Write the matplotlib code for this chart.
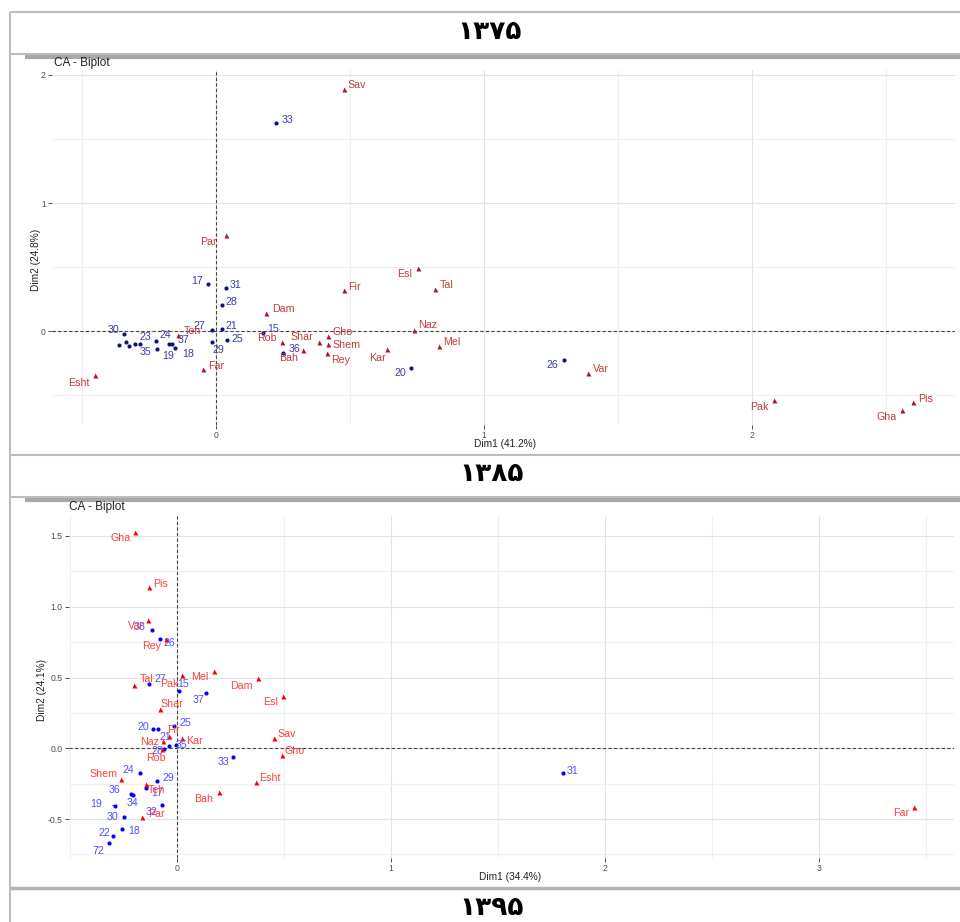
import matplotlib
matplotlib.use('Agg')
import matplotlib.pyplot as plt
from matplotlib.lines import Line2D

W, H = 960, 922

# ---------------- data: 1375 ----------------
rows75_names = ['15', '16', '17', '18', '19', '20', '21', '22', '23', '24', '25', '26',
                '27', '28', '29', '30', '31', '32', '33', '34', '35', '36', '37']
rows75_x = [0.174, -0.363, -0.031, -0.153, -0.175, 0.729, 0.021, -0.336, -0.282, -0.224, 0.041, 1.297,
            -0.016, 0.021, -0.016, -0.342, 0.037, -0.325, 0.225, -0.302, -0.221, 0.250, -0.165]
rows75_y = [-0.018, -0.109, 0.365, -0.130, -0.104, -0.289, 0.013, -0.084, -0.099, -0.078, -0.073, -0.227,
            0.008, 0.201, -0.088, -0.026, 0.338, -0.120, 1.627, -0.104, -0.141, -0.170, -0.104]
cols75_names = ['Sav', 'Par', 'Esl', 'Tal', 'Fir', 'Dam', 'Naz', 'Gho', 'Rob', 'Shar', 'Shem',
                'Bah', 'Rey', 'Kar', 'Mel', 'Far', 'Teh', 'Esht', 'Var', 'Pak', 'Pis', 'Gha']
cols75_x = [0.476, 0.037, 0.754, 0.817, 0.478, 0.187, 0.738, 0.417, 0.247, 0.384, 0.419,
            0.326, 0.413, 0.638, 0.832, -0.050, -0.141, -0.453, 1.387, 2.082, 2.602, 2.560]
cols75_y = [1.893, 0.748, 0.495, 0.328, 0.323, 0.141, 0.010, -0.037, -0.084, -0.084, -0.099,
            -0.146, -0.172, -0.143, -0.115, -0.295, -0.031, -0.344, -0.330, -0.539, -0.552, -0.617]
dim1_75, dim2_75 = 'Dim1 (41.2%)', 'Dim2 (24.8%)'

# ---------------- data: 1385 ----------------
rows85_names = ['15', '16', '17', '18', '19', '20', '21', '22', '24', '25', '26', '27', '28',
                '29', '30', '31', '32', '33', '34', '35', '36', '37', '38', '72']
rows85_x = [0.008, -0.089, -0.143, -0.257, -0.291, -0.114, -0.039, -0.299, -0.171, -0.013, -0.078, -0.129, -0.063,
            -0.095, -0.246, 1.805, -0.071, 0.262, -0.204, -0.005, -0.216, 0.136, -0.118, -0.319]
rows85_y = [0.406, 0.138, -0.277, -0.573, -0.406, 0.138, 0.018, -0.617, -0.171, 0.161, 0.771, 0.455, -0.007,
            -0.229, -0.486, -0.175, -0.404, -0.065, -0.330, 0.023, -0.321, 0.394, 0.836, -0.672]
cols85_names = ['Gha', 'Pis', 'Var', 'Rey', 'Tal', 'Pak', 'Mel', 'Dam', 'Esl', 'Shar', 'Fir',
                'Kar', 'Naz', 'Rob', 'Sav', 'Gho', 'Shem', 'Teh', 'Esht', 'Bah', 'Par', 'Far']
cols85_x = [-0.196, -0.129, -0.134, -0.051, -0.202, 0.022, 0.174, 0.377, 0.497, -0.079, -0.039,
            0.023, -0.064, -0.069, 0.453, 0.489, -0.260, -0.143, 0.368, 0.196, -0.162, 3.445]
cols85_y = [1.530, 1.138, 0.905, 0.771, 0.448, 0.517, 0.549, 0.495, 0.366, 0.279, 0.088,
            0.076, 0.048, -0.004, 0.072, -0.048, -0.220, -0.253, -0.241, -0.307, -0.486, -0.413]
dim1_85, dim2_85 = 'Dim1 (34.4%)', 'Dim2 (24.1%)'

section_titles = ['\u06f1\u06f3\u06f7\u06f5', '\u06f1\u06f3\u06f8\u06f5', '\u06f1\u06f3\u06f9\u06f5']

# ---------------- label placement (pixel offsets, style only) ----------------
off_r75 = {'15': (10, 4), '17': (-11, 3), '18': (13, -6), '19': (-1, -12), '20': (-11, -5),
           '21': (10, 3), '23': (5, 7), '24': (9, 6), '25': (10, 1), '26': (-11, -5),
           '27': (-12, 4), '28': (10, 3), '29': (7, -8), '30': (-11, 4), '31': (10, 3),
           '33': (11, 3), '35': (-11, -3), '36': (11, 4), '37': (12, 4)}
off_c75 = {'Sav': (13, 4), 'Par': (-18, -7), 'Esl': (-14, -6), 'Tal': (12, 4), 'Fir': (10, 3),
           'Dam': (17, 4), 'Naz': (14, 5), 'Gho': (15, 4), 'Rob': (-15, 4), 'Shar': (-17, 5),
           'Shem': (18, -1), 'Bah': (-15, -8), 'Rey': (14, -7), 'Kar': (-10, -9), 'Mel': (13, 4),
           'Far': (14, 3), 'Teh': (14, 4), 'Esht': (-16, -8), 'Var': (13, 4), 'Pak': (-15, -7),
           'Pis': (12, 3), 'Gha': (-16, -7)}
off_r85 = {'15': (4, 7), '17': (11, -5), '18': (12, -2), '19': (-19, 2), '20': (-9, 2),
           '21': (-3, 9), '22': (-9, 3), '24': (-12, 3), '25': (11, 3), '26': (9, -4),
           '27': (11, 5), '28': (-6, -2), '29': (12, 3), '30': (-12, 0), '31': (9, 2),
           '32': (-10, -7), '33': (-10, -5), '34': (-1, -8), '35': (6, 0), '36': (-16, 4),
           '37': (-8, -7), '38': (-12, 3), '72': (-10, -8)}
off_c85 = {'Gha': (-14, -6), 'Pis': (11, 3), 'Var': (-12, -6), 'Rey': (-15, -7), 'Tal': (13, 6),
           'Pak': (-12, -9), 'Mel': (-14, -6), 'Dam': (-16, -8), 'Esl': (-13, -6), 'Shar': (12, 5),
           'Fir': (5, 6), 'Kar': (13, -3), 'Naz': (-14, -1), 'Rob': (-6, -9), 'Sav': (13, 4),
           'Gho': (13, 4), 'Shem': (-18, 5), 'Teh': (10, -6), 'Esht': (14, 4), 'Bah': (-15, -7),
           'Par': (14, 3), 'Far': (-13, -6)}
segment85 = {'19'}

plt.rcParams['font.family'] = ['Liberation Sans', 'DejaVu Sans']

fig = plt.figure(figsize=(W / 100, H / 100), dpi=100)


def fx(x):
    return x / W


def fy(y):
    return 1 - y / H


def hline(y, x0, x1, lw=1.5, color='#bdbdbd'):
    fig.add_artist(Line2D([fx(x0), fx(x1)], [fy(y), fy(y)], transform=fig.transFigure,
                          color=color, lw=lw, solid_capstyle='butt'))


def vline(x, y0, y1, lw=1.5, color='#bdbdbd'):
    fig.add_artist(Line2D([fx(x), fx(x)], [fy(y0), fy(y1)], transform=fig.transFigure,
                          color=color, lw=lw, solid_capstyle='butt'))


def panel(l, t, r, b):
    return fig.add_axes([fx(l), fy(b), (r - l) / W, (b - t) / H])


def draw_biplot(ax, xlim, ylim, xmaj, xmin, ymaj, ymin, yfmt,
                rn, rx, ry, cn, cx, cy, offr, offc, cols, seg=()):
    ax.set_xlim(*xlim)
    ax.set_ylim(*ylim)
    for s in ax.spines.values():
        s.set_visible(False)
    for v in xmin:
        ax.axvline(v, color='#f0f0f0', lw=0.8, zorder=0)
    for v in xmaj:
        ax.axvline(v, color='#e3e3e3', lw=0.8, zorder=0)
    for v in ymin:
        ax.axhline(v, color='#f0f0f0', lw=0.8, zorder=0)
    for v in ymaj:
        ax.axhline(v, color='#e3e3e3', lw=0.8, zorder=0)
    ax.axvline(0, color='#444444', lw=0.8, ls=(0, (3, 2)), zorder=1)
    ax.axhline(0, color='#444444', lw=0.8, ls=(0, (3, 2)), zorder=1)
    ax.set_xticks(xmaj)
    ax.set_yticks(ymaj)
    ax.set_xticklabels([str(int(v)) for v in xmaj])
    ax.set_yticklabels([yfmt(v) for v in ymaj])
    ax.tick_params(length=3, width=0.6, color='#333333', pad=1.5, labelsize=6.2,
                   labelcolor='#4d4d4d')
    bp, bt, rp, rt = cols
    ax.plot(rx, ry, 'o', ms=3.0, color=bp, mec='none', zorder=3)
    ax.plot(cx, cy, '^', ms=3.6, color=rp, mec='none', zorder=3)
    for n, x, y in zip(rn, rx, ry):
        if n in offr:
            dx, dy = offr[n]
            kw = {}
            if n in seg:
                kw['arrowprops'] = dict(arrowstyle='-', color=bp, lw=0.7, shrinkA=6, shrinkB=1)
            ax.annotate(n, (x, y), xytext=(dx, dy), textcoords='offset pixels', ha='center',
                        va='center', fontsize=7.7, color=bt, zorder=4, **kw)
    for n, x, y in zip(cn, cx, cy):
        if n in offc:
            dx, dy = offc[n]
            ax.annotate(n, (x, y), xytext=(dx, dy), textcoords='offset pixels', ha='center',
                        va='center', fontsize=7.7, color=rt, zorder=4)


# ---------------- frame ----------------
hline(12, 10, 960)
vline(10, 12, 922)
hline(54, 10, 960)
hline(57.5, 25, 960, lw=3, color='#a8a8a8')
hline(455, 10, 960)
hline(497, 10, 960)
hline(500.5, 25, 960, lw=3, color='#a8a8a8')
hline(887.5, 10, 960, lw=2.5, color='#b5b5b5')

title_kw = dict(ha='center', va='center', fontsize=19, fontweight='bold', color='black',
                family=['DejaVu Sans'])
fig.text(fx(490), fy(32), section_titles[0], **title_kw)
fig.text(fx(492), fy(474), section_titles[1], **title_kw)
fig.text(fx(492), fy(908), section_titles[2], **title_kw)

# ---------------- panel 1375 ----------------
ax1 = panel(52, 70, 955, 425)
draw_biplot(ax1, (-0.612, 2.757), (-0.734, 2.039), [0, 1, 2], [-0.5, 0.5, 1.5, 2.5],
            [0, 1, 2], [-0.5, 0.5, 1.5], lambda v: str(int(v)),
            rows75_names, rows75_x, rows75_y, cols75_names, cols75_x, cols75_y,
            off_r75, off_c75, ('#10108a', '#3d3da6', '#b0142a', '#c03c3c'))
fig.text(fx(54), fy(63), 'CA - Biplot', ha='left', va='center', fontsize=8.5, color='#222222')
fig.text(fx(505), fy(444), dim1_75, ha='center', va='center', fontsize=7.3, color='#222222')
fig.text(fx(36), fy(260), dim2_75, ha='center', va='center', fontsize=7.3, rotation=90,
         color='#222222')

# ---------------- panel 1385 ----------------
ax2 = panel(69, 516, 954, 858)
draw_biplot(ax2, (-0.505, 3.631), (-0.775, 1.641), [0, 1, 2, 3], [-0.5, 0.5, 1.5, 2.5, 3.5],
            [-0.5, 0.0, 0.5, 1.0, 1.5], [-0.75, -0.25, 0.25, 0.75, 1.25], lambda v: '%.1f' % v,
            rows85_names, rows85_x, rows85_y, cols85_names, cols85_x, cols85_y,
            off_r85, off_c85, ('#0000ff', '#5050ff', '#ff0000', '#ff4040'), seg=segment85)
fig.text(fx(69), fy(507), 'CA - Biplot', ha='left', va='center', fontsize=8.5, color='#222222')
fig.text(fx(510), fy(877), dim1_85, ha='center', va='center', fontsize=7.3, color='#222222')
fig.text(fx(42), fy(690), dim2_85, ha='center', va='center', fontsize=7.3, rotation=90,
         color='#222222')

fig.savefig('out.png', dpi=100)
